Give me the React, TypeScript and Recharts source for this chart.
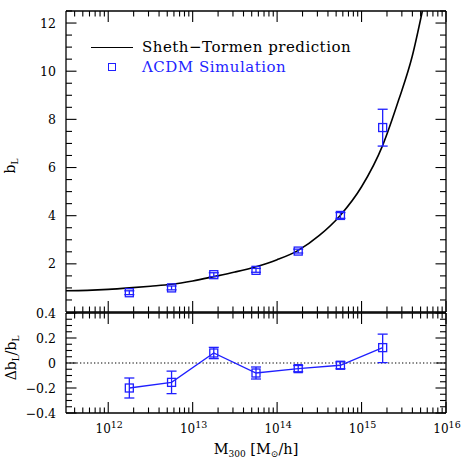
import React from "react";
import { ComposedChart, Line, XAxis, YAxis, ErrorBar, ReferenceLine } from "recharts";

// log10(M300) bin centres of the simulation points
const massLog = [12.25, 12.75, 13.25, 13.75, 14.25, 14.75, 15.25];
const simBias = [0.8, 1.0, 1.55, 1.73, 2.53, 4.01, 7.66];
const simBiasErr: (number | number[])[] = [0.08, 0.08, 0.08, 0.08, 0.08, 0.12, [0.77, 0.76]];

const ratio = [-0.2, -0.155, 0.08, -0.08, -0.045, -0.018, 0.123];
const ratioErr: (number | number[])[] = [0.08, 0.09, 0.045, 0.048, 0.025, 0.028, [0.12, 0.108]];

// Sheth-Tormen curve
const stMassLog = [11.5, 11.75, 12.0, 12.25, 12.5, 12.75, 13.0, 13.25, 13.5, 13.75, 14.0, 14.25, 14.5, 14.75, 15.0, 15.25, 15.44, 15.6, 15.72];
const stBias = [0.88, 0.9, 0.94, 1.0, 1.07, 1.15, 1.29, 1.47, 1.66, 1.88, 2.17, 2.56, 3.18, 4.02, 5.2, 6.92, 8.81, 10.62, 12.5];

const X_DECADES = [12, 13, 14, 15, 16];
const Y_TOP_MAJOR = [2, 4, 6, 8, 10, 12];
const Y_BOT_MAJOR = [-0.4, -0.2, 0, 0.2, 0.4];

const BLUE = "#1f1fff";
const FONT = "'DejaVu Serif', serif";

const simData = massLog.map((m, i) => ({ logM: m, bias: simBias[i], err: simBiasErr[i] }));
const ratioData = massLog.map((m, i) => ({ logM: m, ratio: ratio[i], err: ratioErr[i] }));
const curveData = stMassLog.map((m, i) => ({ logM: m, bias: stBias[i] }));

const xTicks: number[] = [];
for (let n = 11; n <= 15; n++) {
  for (let k = 1; k <= 9; k++) {
    const v = n + Math.log10(k);
    if (v >= 11.5 && v <= 16) xTicks.push(v);
  }
}
xTicks.push(16);

const yTopTicks = Array.from({ length: 25 }, (_, i) => (i + 1) * 0.5);
const yBotTicks = Array.from({ length: 17 }, (_, i) => Math.round((i - 8) * 5) / 100);

const isMajor = (v: number, majors: number[]) => majors.some((m) => Math.abs(m - v) < 1e-6);

function XTick(props: any) {
  const { x, y, payload, side, labels } = props;
  const v = payload.value;
  const major = isMajor(v, X_DECADES);
  const len = major ? 11 : 5.5;
  const dir = side === "bottom" ? -1 : 1;
  return (
    <g>
      <line x1={x} x2={x} y1={y} y2={y + dir * len} stroke="#000" strokeWidth={1.1} />
      {labels && major && (
        <text x={x + 1} y={y + 19.5} textAnchor="middle" fontFamily={FONT} fontSize={12} fill="#000">
          10
          <tspan dy={-5} fontSize={9.5}>
            {Math.round(v)}
          </tspan>
        </text>
      )}
    </g>
  );
}

function YTick(props: any) {
  const { x, y, payload, side, majors, labels } = props;
  const v = payload.value;
  const major = isMajor(v, majors);
  const len = major ? 10.5 : 6;
  const dir = side === "left" ? 1 : -1;
  const txt = v === 0 ? "0" : v < 0 ? "\u2212" + Math.abs(v) : String(v);
  return (
    <g>
      <line x1={x} x2={x + dir * len} y1={y} y2={y} stroke="#000" strokeWidth={1.1} />
      {labels && major && (
        <text x={x - 10} y={y + 4.5} textAnchor="end" fontFamily={FONT} fontSize={12.5} fill="#000">
          {txt}
        </text>
      )}
    </g>
  );
}

const Square = (props: any) => {
  const { cx, cy } = props;
  if (cx == null || cy == null) return null;
  return <rect x={cx - 4} y={cy - 4} width={8} height={8} fill="none" stroke={BLUE} strokeWidth={1.3} />;
};

const axisLine = { stroke: "#000", strokeWidth: 1.3 };

export default function App() {
  return (
    <div style={{ position: "absolute", left: 0, top: 0, width: 471, height: 471, background: "#fff", fontFamily: FONT }}>
      <div style={{ position: "absolute", left: 0, top: 0 }}>
        <ComposedChart width={471} height={313} margin={{ top: 10, right: 24, bottom: 0, left: 65 }}>
          <XAxis xAxisId="b" dataKey="logM" type="number" orientation="bottom" domain={[11.5, 16]} allowDataOverflow
            ticks={xTicks} interval={0} height={1} tickSize={0} tickMargin={0} tickLine={false} axisLine={axisLine}
            tick={<XTick side="bottom" />} />
          <XAxis xAxisId="t" dataKey="logM" type="number" orientation="top" domain={[11.5, 16]} allowDataOverflow
            ticks={xTicks} interval={0} height={1} tickSize={0} tickMargin={0} tickLine={false} axisLine={axisLine}
            tick={<XTick side="top" />} />
          <YAxis yAxisId="l" type="number" domain={[0, 12.5]} allowDataOverflow ticks={yTopTicks} interval={0}
            width={1} tickSize={0} tickMargin={0} tickLine={false} axisLine={axisLine}
            tick={<YTick side="left" majors={Y_TOP_MAJOR} labels />} />
          <YAxis yAxisId="r" orientation="right" type="number" domain={[0, 12.5]} allowDataOverflow ticks={yTopTicks}
            interval={0} width={1} tickSize={0} tickMargin={0} tickLine={false} axisLine={axisLine}
            tick={<YTick side="right" majors={Y_TOP_MAJOR} />} />
          <Line xAxisId="t" yAxisId="r" data={curveData} dataKey="bias" stroke="none" dot={false} activeDot={false}
            isAnimationActive={false} />
          <Line xAxisId="b" yAxisId="l" data={curveData} dataKey="bias" type="monotone" stroke="#000" strokeWidth={1.6}
            dot={false} activeDot={false} isAnimationActive={false} />
          <Line xAxisId="b" yAxisId="l" data={simData} dataKey="bias" stroke="none" dot={<Square />} activeDot={false}
            isAnimationActive={false}>
            <ErrorBar dataKey="err" width={5} stroke={BLUE} strokeWidth={1.3} direction="y" />
          </Line>
        </ComposedChart>
      </div>

      <div style={{ position: "absolute", left: 0, top: 300 }}>
        <ComposedChart width={471} height={171} margin={{ top: 12, right: 24, bottom: 57, left: 65 }}>
          <XAxis xAxisId="b" dataKey="logM" type="number" orientation="bottom" domain={[11.5, 16]} allowDataOverflow
            ticks={xTicks} interval={0} height={1} tickSize={0} tickMargin={0} tickLine={false} axisLine={axisLine}
            tick={<XTick side="bottom" labels />} />
          <XAxis xAxisId="t" dataKey="logM" type="number" orientation="top" domain={[11.5, 16]} allowDataOverflow
            ticks={xTicks} interval={0} height={1} tickSize={0} tickMargin={0} tickLine={false} axisLine={axisLine}
            tick={<XTick side="top" />} />
          <YAxis yAxisId="l" type="number" domain={[-0.4, 0.4]} allowDataOverflow ticks={yBotTicks} interval={0}
            width={1} tickSize={0} tickMargin={0} tickLine={false} axisLine={axisLine}
            tick={<YTick side="left" majors={Y_BOT_MAJOR} labels />} />
          <YAxis yAxisId="r" orientation="right" type="number" domain={[-0.4, 0.4]} allowDataOverflow ticks={yBotTicks}
            interval={0} width={1} tickSize={0} tickMargin={0} tickLine={false} axisLine={axisLine}
            tick={<YTick side="right" majors={Y_BOT_MAJOR} />} />
          <ReferenceLine xAxisId="b" yAxisId="l" y={0} stroke="#000" strokeWidth={1.2} strokeDasharray="1.3 2.2" />
          <Line xAxisId="t" yAxisId="r" data={ratioData} dataKey="ratio" stroke="none" dot={false} activeDot={false}
            isAnimationActive={false} />
          <Line xAxisId="b" yAxisId="l" data={ratioData} dataKey="ratio" type="linear" stroke={BLUE} strokeWidth={1.3}
            dot={<Square />} activeDot={false} isAnimationActive={false}>
            <ErrorBar dataKey="err" width={5} stroke={BLUE} strokeWidth={1.3} direction="y" />
          </Line>
        </ComposedChart>
      </div>

      {/* legend */}
      <div style={{ position: "absolute", left: 91, top: 37, fontSize: 15, letterSpacing: 0.5, lineHeight: "20px", whiteSpace: "nowrap" }}>
        <div style={{ display: "flex", alignItems: "center" }}>
          <span style={{ display: "inline-block", width: 42, height: 0, borderTop: "1.6px solid #000", marginRight: 9 }} />
          <span style={{ color: "#000" }}>Sheth{"\u2212"}Tormen prediction</span>
        </div>
        <div style={{ display: "flex", alignItems: "center" }}>
          <span style={{ display: "inline-block", width: 42, marginRight: 9, position: "relative", height: 20 }}>
            <span style={{ position: "absolute", left: 17, top: 6, width: 6, height: 6, border: `1.3px solid ${BLUE}` }} />
          </span>
          <span style={{ color: BLUE }}>ΛCDM Simulation</span>
        </div>
      </div>

      {/* axis titles */}
      <div style={{ position: "absolute", left: 12, top: 166, transform: "translate(-50%,-50%) rotate(-90deg)", fontSize: 14, whiteSpace: "nowrap", lineHeight: "16px" }}>
        b<span style={{ fontSize: 9, verticalAlign: -3 }}>L</span>
      </div>
      <div style={{ position: "absolute", left: 13, top: 358, transform: "translate(-50%,-50%) rotate(-90deg)", fontSize: 14, whiteSpace: "nowrap", lineHeight: "16px" }}>
        Δb<span style={{ fontSize: 9, verticalAlign: -3 }}>L</span>/b<span style={{ fontSize: 9, verticalAlign: -3 }}>L</span>
      </div>
      <div style={{ position: "absolute", left: 256, top: 451, transform: "translate(-50%,-50%)", fontSize: 14.5, whiteSpace: "nowrap", lineHeight: "16px" }}>
        M<span style={{ fontSize: 9, verticalAlign: -3 }}>300</span> [M<span style={{ fontSize: 9, verticalAlign: -3 }}>⊙</span>/h]
      </div>
    </div>
  );
}
